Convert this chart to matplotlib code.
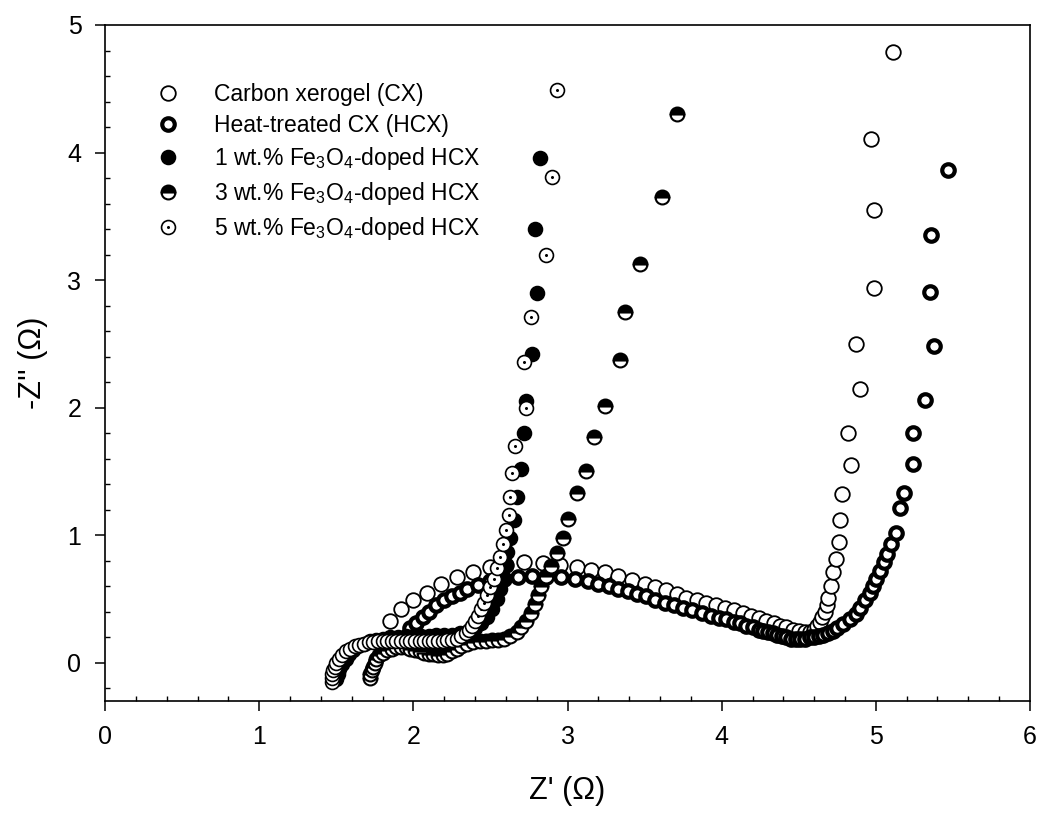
import matplotlib
matplotlib.use("Agg")
import matplotlib.pyplot as plt
from matplotlib.path import Path

plt.rcParams['font.family'] = ['Liberation Sans', 'DejaVu Sans']
plt.rcParams['mathtext.fontset'] = 'custom'
plt.rcParams['mathtext.rm'] = 'Liberation Sans'
plt.rcParams['mathtext.default'] = 'regular'

# Carbon xerogel (CX)
cx_x = [1.85, 1.92, 2.00, 2.09, 2.18, 2.28, 2.39, 2.50, 2.60, 2.72, 2.84, 2.95, 3.06, 3.15, 3.24,
        3.33, 3.42, 3.50, 3.57, 3.64, 3.71, 3.77, 3.84, 3.90, 3.96, 4.02, 4.08, 4.14, 4.19, 4.24,
        4.29, 4.34, 4.38, 4.42, 4.46, 4.50, 4.54, 4.57, 4.60, 4.62, 4.64, 4.65, 4.67, 4.68, 4.69,
        4.71, 4.72, 4.74, 4.76, 4.77, 4.78, 4.84, 4.82, 4.90, 4.87, 4.99, 4.99, 4.97, 5.11]
cx_y = [0.33, 0.42, 0.49, 0.55, 0.62, 0.67, 0.71, 0.75, 0.77, 0.79, 0.78, 0.77, 0.75, 0.73, 0.71,
        0.68, 0.65, 0.62, 0.59, 0.57, 0.54, 0.51, 0.49, 0.47, 0.45, 0.43, 0.41, 0.39, 0.37, 0.35,
        0.33, 0.31, 0.29, 0.28, 0.26, 0.25, 0.24, 0.24, 0.26, 0.29, 0.32, 0.36, 0.40, 0.45, 0.51,
        0.60, 0.71, 0.81, 0.95, 1.12, 1.32, 1.55, 1.80, 2.15, 2.50, 2.94, 3.55, 4.11, 4.79]

# Heat-treated CX (HCX)
hcx_x = [1.98, 2.02, 2.06, 2.10, 2.15, 2.20, 2.25, 2.30, 2.35, 2.42, 2.50, 2.59, 2.68, 2.77, 2.86,
         2.96, 3.05, 3.13, 3.20, 3.27, 3.33, 3.39, 3.45, 3.51, 3.57, 3.63, 3.69, 3.75, 3.81, 3.87,
         3.93, 3.98, 4.03, 4.08, 4.12, 4.16, 4.20, 4.24, 4.27, 4.30, 4.33, 4.36, 4.39, 4.42, 4.45,
         4.48, 4.51, 4.54, 4.57, 4.60, 4.63, 4.66, 4.69, 4.72, 4.75, 4.79, 4.83, 4.87, 4.90, 4.93,
         4.96, 4.98, 5.00, 5.03, 5.05, 5.07, 5.10, 5.13, 5.16, 5.18, 5.24, 5.24, 5.32, 5.38, 5.35,
         5.36, 5.47]
hcx_y = [0.27, 0.31, 0.36, 0.40, 0.45, 0.49, 0.52, 0.55, 0.58, 0.61, 0.64, 0.66, 0.67, 0.68, 0.67,
         0.67, 0.66, 0.64, 0.62, 0.60, 0.58, 0.56, 0.54, 0.52, 0.49, 0.47, 0.45, 0.43, 0.41, 0.39,
         0.37, 0.35, 0.34, 0.32, 0.31, 0.29, 0.28, 0.26, 0.25, 0.24, 0.23, 0.22, 0.21, 0.20, 0.19,
         0.19, 0.19, 0.19, 0.20, 0.20, 0.21, 0.22, 0.23, 0.25, 0.27, 0.30, 0.34, 0.38, 0.43, 0.49,
         0.55, 0.60, 0.66, 0.72, 0.79, 0.85, 0.93, 1.02, 1.21, 1.33, 1.56, 1.80, 2.06, 2.48, 2.91,
         3.35, 3.86]

# 1 wt.% Fe3O4-doped HCX
fe1_x = [1.50, 1.51, 1.52, 1.54, 1.56, 1.58, 1.61, 1.64, 1.68, 1.72, 1.76, 1.80, 1.85, 1.90, 1.95,
         2.00, 2.05, 2.10, 2.15, 2.20, 2.25, 2.30, 2.35, 2.40, 2.44, 2.48, 2.51, 2.54, 2.56, 2.58,
         2.60, 2.61, 2.63, 2.65, 2.67, 2.70, 2.72, 2.73, 2.77, 2.80, 2.79, 2.82]
fe1_y = [-0.13, -0.09, -0.05, -0.01, 0.03, 0.07, 0.10, 0.13, 0.15, 0.17, 0.18, 0.19, 0.20, 0.20, 0.21,
         0.21, 0.21, 0.21, 0.22, 0.22, 0.22, 0.23, 0.24, 0.27, 0.31, 0.36, 0.42, 0.50, 0.58, 0.67,
         0.77, 0.87, 0.98, 1.12, 1.30, 1.52, 1.80, 2.05, 2.42, 2.90, 3.40, 3.96]

# 3 wt.% Fe3O4-doped HCX
fe3_x = [1.72, 1.72, 1.73, 1.74, 1.75, 1.76, 1.78, 1.80, 1.83, 1.86, 1.89, 1.92, 1.95, 1.98, 2.01,
         2.04, 2.07, 2.10, 2.13, 2.16, 2.19, 2.22, 2.25, 2.28, 2.31, 2.35, 2.39, 2.43, 2.47, 2.51,
         2.55, 2.59, 2.63, 2.67, 2.70, 2.73, 2.76, 2.79, 2.81, 2.83, 2.86, 2.89, 2.93, 2.97, 3.00,
         3.06, 3.12, 3.17, 3.24, 3.34, 3.37, 3.47, 3.61, 3.71]
fe3_y = [-0.12, -0.09, -0.06, -0.03, 0.00, 0.03, 0.06, 0.08, 0.10, 0.11, 0.12, 0.12, 0.12, 0.11, 0.10,
         0.09, 0.08, 0.07, 0.07, 0.06, 0.06, 0.07, 0.09, 0.11, 0.13, 0.15, 0.16, 0.17, 0.17, 0.18,
         0.18, 0.19, 0.21, 0.24, 0.28, 0.33, 0.39, 0.46, 0.53, 0.60, 0.68, 0.76, 0.86, 0.98, 1.13,
         1.33, 1.50, 1.77, 2.01, 2.37, 2.75, 3.13, 3.65, 4.30]

# 5 wt.% Fe3O4-doped HCX
fe5_x = [1.47, 1.47, 1.47, 1.48, 1.49, 1.50, 1.52, 1.54, 1.56, 1.59, 1.62, 1.65, 1.68, 1.71, 1.74,
         1.77, 1.80, 1.83, 1.86, 1.89, 1.92, 1.95, 1.98, 2.01, 2.04, 2.07, 2.10, 2.13, 2.16, 2.19,
         2.22, 2.25, 2.28, 2.31, 2.34, 2.36, 2.38, 2.40, 2.42, 2.44, 2.46, 2.48, 2.50, 2.52, 2.54,
         2.56, 2.58, 2.60, 2.62, 2.63, 2.64, 2.66, 2.73, 2.72, 2.76, 2.86, 2.90, 2.93]
fe5_y = [-0.15, -0.12, -0.09, -0.06, -0.03, 0.00, 0.03, 0.06, 0.09, 0.11, 0.13, 0.14, 0.15, 0.16, 0.16,
         0.17, 0.17, 0.17, 0.17, 0.17, 0.17, 0.17, 0.17, 0.17, 0.17, 0.17, 0.17, 0.17, 0.17, 0.17,
         0.18, 0.18, 0.19, 0.21, 0.23, 0.26, 0.29, 0.33, 0.37, 0.42, 0.47, 0.53, 0.59, 0.66, 0.74,
         0.83, 0.93, 1.04, 1.16, 1.30, 1.49, 1.70, 2.00, 2.36, 2.71, 3.20, 3.81, 4.49]

labels = ['Carbon xerogel (CX)', 'Heat-treated CX (HCX)',
          '1 wt.% Fe$_3$O$_4$-doped HCX', '3 wt.% Fe$_3$O$_4$-doped HCX',
          '5 wt.% Fe$_3$O$_4$-doped HCX']

# circle with a dot in the middle
dot_marker = Path.make_compound_path(Path.unit_circle(), Path.circle((0, 0), 0.1))

fig = plt.figure(figsize=(10.46, 8.14), dpi=100)
ax = fig.add_axes([0.1004, 0.1388, 0.8843, 0.8305])

ax.plot(cx_x, cx_y, ls='none', marker='o', ms=10.5, mfc='white', mec='black', mew=1.3,
        label=labels[0])
ax.plot(hcx_x, hcx_y, ls='none', marker='o', ms=9, mfc='white', mec='black', mew=3.0,
        label=labels[1])
ax.plot(fe1_x, fe1_y, ls='none', marker='o', ms=10, mfc='black', mec='black', mew=1.2,
        label=labels[2])
ax.plot(fe3_x, fe3_y, ls='none', marker='o', ms=10, fillstyle='top', mfc='black',
        mfcalt='white', mec='black', mew=1.5, label=labels[3])
ax.plot(fe5_x, fe5_y, ls='none', marker=dot_marker, ms=10, mfc='white', mec='black', mew=1.2,
        label=labels[4])

ax.set_xlim(0, 6)
ax.set_ylim(-0.3, 5)
ax.set_xticks(range(0, 7))
ax.set_yticks(range(0, 6))
ax.set_xticks([i * 0.2 for i in range(31)], minor=True)
ax.set_yticks([-0.2 + i * 0.2 for i in range(27)], minor=True)
ax.tick_params(which='major', direction='out', length=7, width=1.1, labelsize=18, pad=10)
ax.tick_params(which='minor', direction='in', length=3.5, width=1.0)
for s in ax.spines.values():
    s.set_linewidth(1.2)

ax.set_xlabel("Z' (\u03a9)", fontsize=22, labelpad=20)
ax.set_ylabel("-Z'' (\u03a9)", fontsize=22, labelpad=14)

ax.legend(loc='upper left', bbox_to_anchor=(0.046, 0.928), frameon=False, fontsize=16.5,
          handlelength=1.0, handletextpad=1.5, labelspacing=0.35, borderaxespad=0)

fig.savefig('out.png', dpi=100)
